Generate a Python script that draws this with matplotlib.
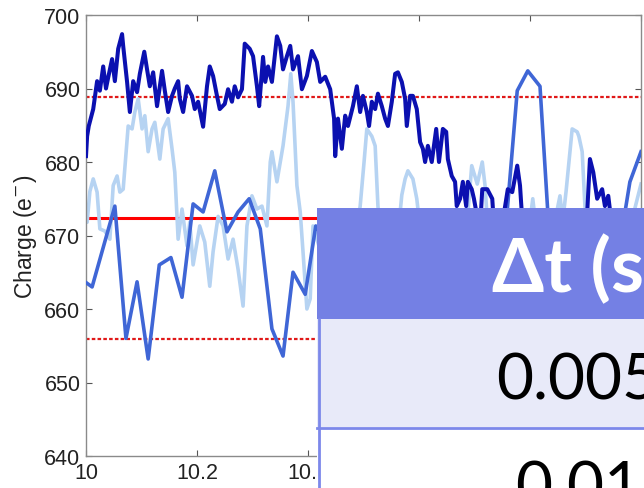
import matplotlib
matplotlib.use("Agg")
import matplotlib.pyplot as plt
from matplotlib.patches import Rectangle
from matplotlib.lines import Line2D

# fine trace (dark)
dark_t = [10.000, 10.002, 10.005, 10.013, 10.020, 10.025, 10.031, 10.036, 10.040, 10.047,
          10.052, 10.058, 10.065, 10.067, 10.074, 10.079, 10.085, 10.092, 10.097, 10.105,
          10.110, 10.115, 10.121, 10.128, 10.137, 10.142, 10.148, 10.155, 10.160, 10.166,
          10.169, 10.175, 10.182, 10.191, 10.196, 10.202, 10.211, 10.218, 10.223, 10.229,
          10.236, 10.241, 10.250, 10.256, 10.263, 10.268, 10.274, 10.281, 10.286, 10.295,
          10.301, 10.308, 10.312, 10.319, 10.323, 10.328, 10.335, 10.344, 10.350, 10.355,
          10.362, 10.368, 10.373, 10.382, 10.389, 10.398, 10.407, 10.416, 10.422, 10.431,
          10.440, 10.443, 10.447, 10.449, 10.454, 10.461, 10.467, 10.472, 10.481, 10.488,
          10.494, 10.499, 10.506, 10.510, 10.515, 10.521, 10.526, 10.533, 10.539, 10.544,
          10.551, 10.557, 10.562, 10.569, 10.575, 10.578, 10.584, 10.589, 10.596, 10.602,
          10.607, 10.611, 10.616, 10.623, 10.631, 10.636, 10.643, 10.649, 10.652, 10.659,
          10.665, 10.668, 10.674, 10.679, 10.685, 10.688, 10.695, 10.699, 10.705, 10.710,
          10.714, 10.723, 10.732, 10.735, 10.742, 10.751, 10.760, 10.768, 10.777, 10.782,
          10.787, 10.800, 10.818, 10.836, 10.854, 10.872, 10.890, 10.903, 10.908, 10.914,
          10.921, 10.930, 10.935, 10.941, 10.948, 10.962, 10.980, 11.000]
dark_q = [680.8, 683.5, 684.9, 687.2, 691.0, 689.7, 693.0, 690.0, 691.5, 694.0,
          691.0, 695.4, 697.4, 695.8, 690.9, 686.8, 691.0, 689.5, 692.0, 695.0,
          692.6, 690.3, 692.2, 687.6, 692.4, 689.7, 686.8, 689.0, 690.0, 691.0,
          688.6, 686.8, 690.3, 689.0, 687.2, 688.2, 684.8, 690.3, 693.0, 691.7,
          689.0, 687.2, 687.9, 689.9, 688.2, 690.3, 688.8, 689.9, 696.1, 695.4,
          694.4, 690.3, 687.6, 694.3, 690.9, 693.0, 690.9, 697.1, 695.8, 692.6,
          694.4, 695.8, 692.6, 694.4, 689.9, 691.7, 695.1, 693.6, 690.9, 691.6,
          689.9, 688.2, 685.9, 680.8, 685.9, 681.8, 686.3, 684.9, 687.6, 690.3,
          686.8, 689.0, 686.8, 684.9, 688.2, 687.2, 689.3, 687.6, 685.9, 684.9,
          688.2, 692.0, 692.2, 690.9, 688.6, 684.9, 689.0, 689.0, 687.2, 682.7,
          681.8, 680.0, 682.2, 680.0, 684.5, 680.0, 684.5, 684.1, 680.4, 678.1,
          677.3, 674.0, 675.0, 677.3, 674.0, 677.3, 676.3, 675.0, 672.5, 671.0,
          676.3, 676.3, 675.0, 671.5, 669.0, 672.0, 676.3, 675.9, 679.5, 676.8,
          671.0, 668.0, 669.0, 667.0, 670.0, 668.0, 669.0, 673.0, 680.4, 678.6,
          675.0, 676.3, 674.0, 675.4, 671.0, 668.0, 669.0, 670.0]

# coarse trace (medium blue)
coarse_t = [10.000, 10.011, 10.052, 10.072, 10.092, 10.112, 10.132, 10.153, 10.173, 10.193,
            10.211, 10.232, 10.254, 10.274, 10.294, 10.314, 10.335, 10.355, 10.373, 10.395,
            10.414, 10.434, 10.454, 10.474, 10.494, 10.514, 10.533, 10.553, 10.573, 10.593,
            10.613, 10.632, 10.652, 10.674, 10.694, 10.714, 10.733, 10.753, 10.777, 10.796,
            10.818, 10.838, 10.858, 10.877, 10.897, 10.917, 10.937, 10.960, 10.980, 11.000]
coarse_q = [663.6, 663.0, 674.0, 656.0, 663.7, 653.2, 666.0, 667.0, 661.6, 674.3,
            673.2, 678.8, 670.5, 673.2, 675.0, 670.9, 657.3, 653.6, 665.0, 662.0,
            671.3, 669.0, 664.0, 660.0, 666.0, 662.0, 658.0, 664.0, 668.0, 661.0,
            657.0, 663.0, 666.0, 660.0, 664.0, 668.0, 662.0, 668.0, 689.7, 692.4,
            690.3, 666.0, 660.0, 664.0, 659.0, 663.0, 667.0, 668.0, 677.3, 681.4]

# medium trace (light blue)
mid_t = [10.000, 10.002, 10.007, 10.013, 10.020, 10.025, 10.034, 10.043, 10.049, 10.056,
         10.061, 10.067, 10.076, 10.083, 10.088, 10.094, 10.101, 10.106, 10.112, 10.119,
         10.124, 10.133, 10.139, 10.148, 10.155, 10.160, 10.166, 10.173, 10.182, 10.187,
         10.193, 10.205, 10.214, 10.223, 10.229, 10.238, 10.247, 10.256, 10.265, 10.274,
         10.283, 10.290, 10.299, 10.308, 10.317, 10.326, 10.332, 10.335, 10.344, 10.355,
         10.364, 10.369, 10.373, 10.380, 10.386, 10.391, 10.398, 10.404, 10.409, 10.422,
         10.440, 10.458, 10.476, 10.486, 10.494, 10.501, 10.506, 10.515, 10.521, 10.526,
         10.533, 10.548, 10.562, 10.569, 10.575, 10.580, 10.589, 10.596, 10.602, 10.620,
         10.638, 10.650, 10.665, 10.677, 10.688, 10.695, 10.705, 10.714, 10.719, 10.724,
         10.737, 10.755, 10.773, 10.800, 10.805, 10.811, 10.827, 10.845, 10.854, 10.859,
         10.865, 10.876, 10.885, 10.888, 10.894, 10.899, 10.908, 10.926, 10.944, 10.962,
         10.980, 11.000]
mid_q = [673.0, 671.8, 676.0, 677.7, 675.9, 670.9, 670.6, 669.5, 676.8, 678.1,
         675.9, 676.3, 684.9, 684.5, 686.8, 688.6, 684.5, 686.3, 681.4, 684.5,
         685.4, 680.4, 684.5, 685.9, 681.8, 678.6, 669.5, 673.6, 668.6, 671.8,
         666.0, 671.3, 669.1, 663.1, 667.8, 672.6, 671.3, 666.8, 669.5, 665.4,
         660.4, 671.3, 675.4, 673.6, 674.0, 671.3, 680.0, 681.4, 677.3, 682.2,
         687.6, 692.0, 688.2, 676.8, 673.2, 667.8, 660.0, 661.4, 671.3, 668.0,
         665.0, 669.0, 666.0, 670.0, 674.0, 680.0, 684.5, 683.5, 682.2, 674.0,
         668.0, 666.0, 670.0, 675.5, 677.7, 678.8, 677.7, 675.0, 671.0, 668.0,
         670.0, 666.0, 670.0, 668.0, 673.0, 679.5, 677.0, 680.0, 676.8, 671.0,
         668.0, 670.0, 667.0, 672.0, 675.0, 671.0, 669.0, 672.0, 675.4, 672.0,
         676.0, 684.5, 684.1, 683.5, 681.4, 674.0, 669.0, 667.0, 670.0, 668.0,
         671.0, 677.0]

mean_q = 672.4
upper_q = 688.9
lower_q = 655.9

table_header = "Δt (s)"
table_rows = ["0.005", "0.01"]

W, H = 644, 489
fig = plt.figure(figsize=(W / 100, H / 100), dpi=100)
ax = fig.add_axes([86 / W, 1 - 457 / H, 555 / W, 441 / H])

ax.axhline(mean_q, color="#ff0000", lw=2.2, zorder=1)
ax.axhline(upper_q, color="#e01818", lw=1.6, ls=(0, (1.6, 1.0)), zorder=1)
ax.axhline(lower_q, color="#e01818", lw=1.6, ls=(0, (1.6, 1.0)), zorder=1)
ax.plot(mid_t, mid_q, color="#b6d3f2", lw=2.6, zorder=2)
ax.plot(coarse_t, coarse_q, color="#3f66d6", lw=2.6, zorder=3)
ax.plot(dark_t, dark_q, color="#0b10b0", lw=2.9, zorder=4)

ax.set_xlim(10, 11)
ax.set_ylim(640, 700)
ax.set_xticks([10, 10.2, 10.4, 10.6, 10.8, 11])
ax.set_xticklabels(["10", "10.2", "10.4", "10.6", "10.8", "11"])
ax.set_yticks(range(640, 701, 10))
for s in ax.spines.values():
    s.set_color("#8a8a8a")
    s.set_linewidth(1.0)
ax.tick_params(direction="in", length=4, width=0.8, color="#555555",
               top=True, right=True, labelsize=15.5, labelcolor="#222222")
ax.tick_params(axis="x", pad=4)
ax.tick_params(axis="y", pad=4)
for lab in ax.get_xticklabels() + ax.get_yticklabels():
    lab.set_fontfamily("Liberation Sans")
ax.set_ylabel("Charge (e$^{-}$)", fontsize=16.5, family="Liberation Sans",
              color="#222222", labelpad=4)


# overlay table (pixel coords of the picture)
def fx(px):
    return px / W


def fy(py):
    return 1 - py / H


def box(x0, y0, x1, y1, color):
    fig.add_artist(Rectangle((fx(x0), fy(y1)), fx(x1) - fx(x0), fy(y0) - fy(y1),
                             transform=fig.transFigure, facecolor=color,
                             edgecolor="none", zorder=10))


box(317, 209, 660, 320, "#7480e4")
box(317, 320, 660, 428, "#e8eaf9")
box(317, 428, 660, 500, "#ffffff")
fig.add_artist(Line2D([fx(318.5), fx(318.5)], [fy(320), fy(500)], transform=fig.transFigure,
                      color="#7c88ea", lw=2, zorder=11))
fig.add_artist(Line2D([fx(317), fx(660)], [fy(429), fy(429)], transform=fig.transFigure,
                      color="#7c88ea", lw=2, zorder=11))

fig.text(fx(578), fy(292), table_header, ha="center", va="baseline", color="white",
         fontsize=54, fontweight="bold", family=["Lato", "DejaVu Sans"], zorder=12)
fig.text(fx(578), fy(400), table_rows[0], ha="center", va="baseline", color="black",
         fontsize=46, family=["Lato", "DejaVu Sans"], zorder=12)
fig.text(fx(578), fy(508), table_rows[1], ha="center", va="baseline", color="black",
         fontsize=46, family=["Lato", "DejaVu Sans"], zorder=12)

fig.savefig("out.png", dpi=100)
